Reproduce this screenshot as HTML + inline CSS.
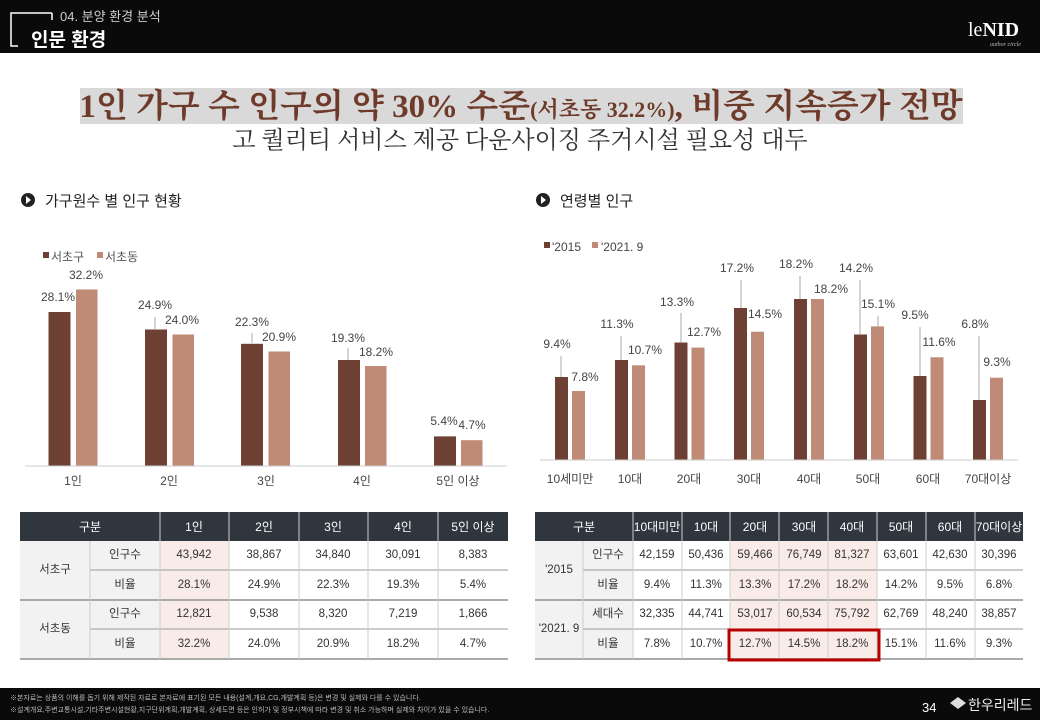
<!DOCTYPE html>
<html><head><meta charset="utf-8"><style>
html,body{margin:0;padding:0;background:#fff}
svg{display:block}
text{font-family:"Liberation Sans","Noto Sans CJK KR",sans-serif}
.serif{font-family:"Liberation Serif","Noto Serif CJK SC",serif}
.v{font-size:12px;fill:#444;text-anchor:middle;dominant-baseline:central}
.c{font-size:12px;fill:#444;text-anchor:middle}
.t{font-size:11.5px;fill:#333;text-anchor:middle;dominant-baseline:central}
.h{font-size:12px;fill:#fff;text-anchor:middle;dominant-baseline:central}
</style></head><body>
<svg width="1040" height="720" viewBox="0 0 1040 720" xmlns="http://www.w3.org/2000/svg">
<!-- header -->
<rect x="0" y="0" width="1040" height="53" fill="#0a0a0a"/>
<path d="M52 13 H11 V46 H18" stroke="#fff" stroke-width="1.5" fill="none"/>
<path d="M52 13 V20" stroke="#fff" stroke-width="1.5"/>
<text x="60" y="21" font-size="13" fill="#ccc">04. 분양 환경 분석</text>
<text x="31" y="46" font-size="19" font-weight="bold" fill="#fff">인문 환경</text>
<text x="968" y="36" class="serif" font-size="20" fill="#fff">le<tspan font-weight="bold">NID</tspan></text>
<text x="990" y="46" class="serif" font-size="6" fill="#bbb" font-style="italic">author circle</text>
<!-- title -->
<rect x="80" y="88" width="883" height="36" fill="#d9d9d9"/>
<text x="521" y="117" text-anchor="middle" class="serif" font-size="33" font-weight="bold" fill="#6e3a2a">1인 가구 수 인구의 약 30% 수준<tspan font-size="22">(서초동 32.2%)</tspan>, 비중 지속증가 전망</text>
<text x="520" y="148" text-anchor="middle" class="serif" font-size="24" fill="#333">고 퀄리티 서비스 제공 다운사이징 주거시설 필요성 대두</text>
<!-- section headings -->
<circle cx="28" cy="200" r="7" fill="#222"/><path d="M26 196 L31 200 L26 204Z" fill="#fff"/>
<text x="45" y="206" font-size="15" fill="#222">가구원수 별 인구 현황</text>
<circle cx="543" cy="200" r="7" fill="#222"/><path d="M541 196 L546 200 L541 204Z" fill="#fff"/>
<text x="560" y="206" font-size="15" fill="#222">연령별 인구</text>

<!-- left chart -->
<rect x="43" y="252" width="6" height="6" fill="#6e4033"/><text x="51" y="261" font-size="12" fill="#555">서초구</text>
<rect x="97" y="252" width="6" height="6" fill="#bf8a76"/><text x="105" y="261" font-size="12" fill="#555">서초동</text>
<g fill="#6e4033">
<rect x="48.5" y="312" width="22" height="154"/>
<rect x="145" y="329.5" width="22" height="136.5"/>
<rect x="241" y="343.8" width="22" height="122.2"/>
<rect x="338" y="360" width="22" height="106"/>
<rect x="434" y="436.4" width="22" height="29.6"/>
</g>
<g fill="#bf8a76">
<rect x="76" y="289.5" width="21.5" height="176.5"/>
<rect x="172.5" y="334.5" width="21.5" height="131.5"/>
<rect x="268.5" y="351.5" width="21.5" height="114.5"/>
<rect x="365" y="366" width="21.5" height="100"/>
<rect x="461" y="440.2" width="21.5" height="25.8"/>
</g>
<line x1="25" y1="466" x2="507" y2="466" stroke="#ccc"/>
<g stroke="#aaa"><line x1="155" y1="317" x2="155" y2="329"/><line x1="252" y1="333" x2="252" y2="343"/><line x1="348" y1="348" x2="348" y2="360"/></g>
<text class="v" x="58" y="297">28.1%</text><text class="v" x="86" y="275">32.2%</text>
<text class="v" x="155" y="305">24.9%</text><text class="v" x="182" y="320">24.0%</text>
<text class="v" x="252" y="322">22.3%</text><text class="v" x="279" y="337">20.9%</text>
<text class="v" x="348" y="338">19.3%</text><text class="v" x="376" y="352">18.2%</text>
<text class="v" x="444" y="421">5.4%</text><text class="v" x="472" y="425">4.7%</text>
<text class="c" x="73" y="485">1인</text><text class="c" x="169" y="485">2인</text><text class="c" x="266" y="485">3인</text><text class="c" x="362" y="485">4인</text><text class="c" x="458" y="485">5인 이상</text>

<!-- right chart -->
<rect x="544" y="242" width="6" height="6" fill="#6e4033"/><text x="552" y="251" font-size="12" fill="#444">'2015</text>
<rect x="592" y="242" width="6" height="6" fill="#bf8a76"/><text x="601" y="251" font-size="12" fill="#444">'2021. 9</text>
<g fill="#6e4033">
<rect x="555" y="377" width="13" height="83"/>
<rect x="615" y="360" width="13" height="100"/>
<rect x="674.5" y="342.5" width="13" height="117.5"/>
<rect x="734" y="308" width="13" height="152"/>
<rect x="794" y="299" width="13" height="161"/>
<rect x="854" y="334.5" width="13" height="125.5"/>
<rect x="913.5" y="376" width="13" height="84"/>
<rect x="973" y="400" width="13" height="60"/>
</g>
<g fill="#bf8a76">
<rect x="572" y="391" width="13" height="69"/>
<rect x="632" y="365.3" width="13" height="94.7"/>
<rect x="691.5" y="347.6" width="13" height="112.4"/>
<rect x="751" y="331.7" width="13" height="128.3"/>
<rect x="811" y="299" width="13" height="161"/>
<rect x="871" y="326.4" width="13" height="133.6"/>
<rect x="930.5" y="357.3" width="13" height="102.7"/>
<rect x="990" y="377.7" width="13" height="82.3"/>
</g>
<line x1="540" y1="460" x2="1018" y2="460" stroke="#ccc"/>
<g stroke="#aaa"><line x1="561" y1="356" x2="561" y2="377"/><line x1="621" y1="336" x2="621" y2="360"/><line x1="681" y1="313" x2="681" y2="342"/><line x1="741" y1="280" x2="741" y2="308"/><line x1="800" y1="276" x2="800" y2="299"/><line x1="860" y1="280" x2="860" y2="334"/><line x1="878" y1="316" x2="878" y2="327"/><line x1="920" y1="327" x2="920" y2="376"/><line x1="979" y1="336" x2="979" y2="400"/></g>
<text class="v" x="557" y="344">9.4%</text><text class="v" x="585" y="377">7.8%</text>
<text class="v" x="617" y="324">11.3%</text><text class="v" x="645" y="350">10.7%</text>
<text class="v" x="677" y="302">13.3%</text><text class="v" x="704" y="332">12.7%</text>
<text class="v" x="737" y="268">17.2%</text><text class="v" x="765" y="314">14.5%</text>
<text class="v" x="796" y="264">18.2%</text><text class="v" x="831" y="289">18.2%</text>
<text class="v" x="856" y="268">14.2%</text><text class="v" x="878" y="304">15.1%</text>
<text class="v" x="915" y="315">9.5%</text><text class="v" x="939" y="342">11.6%</text>
<text class="v" x="975" y="324">6.8%</text><text class="v" x="997" y="362">9.3%</text>
<text class="c" x="570" y="483">10세미만</text><text class="c" x="630" y="483">10대</text><text class="c" x="689" y="483">20대</text><text class="c" x="749" y="483">30대</text><text class="c" x="809" y="483">40대</text><text class="c" x="868" y="483">50대</text><text class="c" x="928" y="483">60대</text><text class="c" x="988" y="483">70대이상</text>

<!-- left table -->
<rect x="20" y="512" width="488" height="29" fill="#2f363e"/>
<rect x="20" y="541" width="140" height="118" fill="#f2f2f2"/>
<rect x="160" y="541" width="69" height="118" fill="#f8ebe8"/>
<g stroke="#999"><line x1="90" y1="570" x2="508" y2="570"/><line x1="90" y1="629" x2="508" y2="629"/></g>
<g stroke="#aaa" stroke-width="2"><line x1="20" y1="600" x2="508" y2="600"/><line x1="20" y1="659" x2="508" y2="659"/></g>
<g stroke="#ccc"><line x1="90" y1="541" x2="90" y2="659"/><line x1="160" y1="512" x2="160" y2="659"/><line x1="229" y1="512" x2="229" y2="659"/><line x1="299" y1="512" x2="299" y2="659"/><line x1="368" y1="512" x2="368" y2="659"/><line x1="438" y1="512" x2="438" y2="659"/></g>
<text class="h" x="90" y="527">구분</text><text class="h" x="194" y="527">1인</text><text class="h" x="264" y="527">2인</text><text class="h" x="333" y="527">3인</text><text class="h" x="403" y="527">4인</text><text class="h" x="473" y="527">5인 이상</text>
<text class="t" x="55" y="570">서초구</text><text class="t" x="55" y="629">서초동</text>
<text class="t" x="125" y="555">인구수</text><text class="t" x="125" y="585">비율</text><text class="t" x="125" y="614">인구수</text><text class="t" x="125" y="644">비율</text>
<g class="t">
<text class="t" x="194" y="555">43,942</text><text class="t" x="264" y="555">38,867</text><text class="t" x="333" y="555">34,840</text><text class="t" x="403" y="555">30,091</text><text class="t" x="473" y="555">8,383</text>
<text class="t" x="194" y="585">28.1%</text><text class="t" x="264" y="585">24.9%</text><text class="t" x="333" y="585">22.3%</text><text class="t" x="403" y="585">19.3%</text><text class="t" x="473" y="585">5.4%</text>
<text class="t" x="194" y="614">12,821</text><text class="t" x="264" y="614">9,538</text><text class="t" x="333" y="614">8,320</text><text class="t" x="403" y="614">7,219</text><text class="t" x="473" y="614">1,866</text>
<text class="t" x="194" y="644">32.2%</text><text class="t" x="264" y="644">24.0%</text><text class="t" x="333" y="644">20.9%</text><text class="t" x="403" y="644">18.2%</text><text class="t" x="473" y="644">4.7%</text>
</g>

<!-- right table -->
<rect x="535" y="512" width="488" height="29" fill="#2f363e"/>
<rect x="535" y="541" width="98" height="118" fill="#f2f2f2"/>
<rect x="730" y="541" width="147" height="118" fill="#f8ebe8"/>
<g stroke="#999"><line x1="583" y1="570" x2="1023" y2="570"/><line x1="583" y1="629" x2="1023" y2="629"/></g>
<g stroke="#aaa" stroke-width="2"><line x1="535" y1="600" x2="1023" y2="600"/><line x1="535" y1="659" x2="1023" y2="659"/></g>
<g stroke="#ccc"><line x1="583" y1="541" x2="583" y2="659"/><line x1="633" y1="512" x2="633" y2="659"/><line x1="682" y1="512" x2="682" y2="659"/><line x1="730" y1="512" x2="730" y2="659"/><line x1="779" y1="512" x2="779" y2="659"/><line x1="828" y1="512" x2="828" y2="659"/><line x1="877" y1="512" x2="877" y2="659"/><line x1="926" y1="512" x2="926" y2="659"/><line x1="975" y1="512" x2="975" y2="659"/></g>
<text class="h" x="584" y="527">구분</text><text class="h" x="657" y="527">10대미만</text><text class="h" x="706" y="527">10대</text><text class="h" x="755" y="527">20대</text><text class="h" x="804" y="527">30대</text><text class="h" x="852" y="527">40대</text><text class="h" x="901" y="527">50대</text><text class="h" x="950" y="527">60대</text><text class="h" x="999" y="527">70대이상</text>
<text class="t" x="559" y="570">'2015</text><text class="t" x="559" y="629">'2021. 9</text>
<text class="t" x="608" y="555">인구수</text><text class="t" x="608" y="585">비율</text><text class="t" x="608" y="614">세대수</text><text class="t" x="608" y="644">비율</text>
<text class="t" x="657" y="555">42,159</text><text class="t" x="706" y="555">50,436</text><text class="t" x="755" y="555">59,466</text><text class="t" x="804" y="555">76,749</text><text class="t" x="852" y="555">81,327</text><text class="t" x="901" y="555">63,601</text><text class="t" x="950" y="555">42,630</text><text class="t" x="999" y="555">30,396</text>
<text class="t" x="657" y="585">9.4%</text><text class="t" x="706" y="585">11.3%</text><text class="t" x="755" y="585">13.3%</text><text class="t" x="804" y="585">17.2%</text><text class="t" x="852" y="585">18.2%</text><text class="t" x="901" y="585">14.2%</text><text class="t" x="950" y="585">9.5%</text><text class="t" x="999" y="585">6.8%</text>
<text class="t" x="657" y="614">32,335</text><text class="t" x="706" y="614">44,741</text><text class="t" x="755" y="614">53,017</text><text class="t" x="804" y="614">60,534</text><text class="t" x="852" y="614">75,792</text><text class="t" x="901" y="614">62,769</text><text class="t" x="950" y="614">48,240</text><text class="t" x="999" y="614">38,857</text>
<text class="t" x="657" y="644">7.8%</text><text class="t" x="706" y="644">10.7%</text><text class="t" x="755" y="644">12.7%</text><text class="t" x="804" y="644">14.5%</text><text class="t" x="852" y="644">18.2%</text><text class="t" x="901" y="644">15.1%</text><text class="t" x="950" y="644">11.6%</text><text class="t" x="999" y="644">9.3%</text>
<rect x="729" y="630" width="150" height="30" fill="none" stroke="#b80000" stroke-width="3"/>

<!-- footer -->
<rect x="0" y="688" width="1040" height="32" fill="#0a0a0a"/>
<text x="10" y="700" font-size="7" fill="#bbb">※본자료는 상품의 이해를 돕기 위해 제작된 자료로 본자료에 표기된 모든 내용(설계,개요,CG,개발계획 등)은 변경 및 실제와 다를 수 있습니다.</text>
<text x="10" y="712" font-size="7" fill="#bbb">※설계개요,주변교통시설,기타주변시설현황,지구단위계획,개발계획, 상세도면 등은 인허가 및 정부시책에 따라 변경 및 취소 가능하며 실제와 차이가 있을 수 있습니다.</text>
<text x="922" y="712" font-size="13" fill="#fff">34</text>
<path d="M950 703 L958 697 L966 703 L958 709Z" fill="#ddd"/>
<text x="968" y="710" font-size="14" fill="#eee">한우리레드</text>
</svg>
</body></html>
